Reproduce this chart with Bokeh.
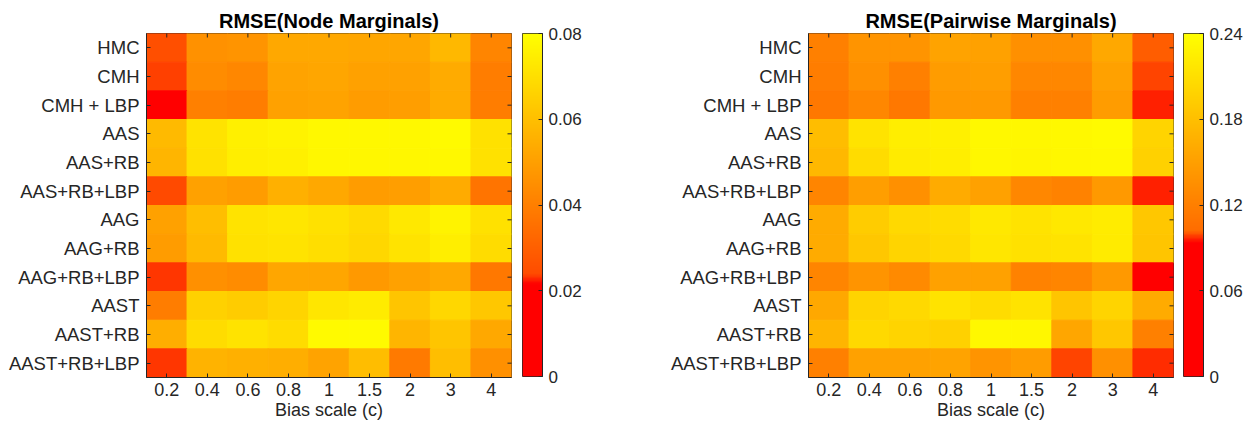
import numpy as np
from bokeh.plotting import figure
from bokeh.models import (LinearColorMapper, FactorRange, Range1d, FixedTicker, ColumnDataSource)
from bokeh.layouts import row
from bokeh.transform import transform
from bokeh.embed import file_html
from bokeh.resources import INLINE

# ---------------- data ----------------
methods = ["HMC", "CMH", "CMH + LBP", "AAS", "AAS+RB", "AAS+RB+LBP", "AAG", "AAG+RB",
           "AAG+RB+LBP", "AAST", "AAST+RB", "AAST+RB+LBP"]
bias_scales = ["0.2", "0.4", "0.6", "0.8", "1", "1.5", "2", "3", "4"]

node_rmse = [
    [0.0248, 0.0456, 0.0464, 0.0528, 0.0528, 0.0520, 0.0520, 0.0576, 0.0416],
    [0.0235, 0.0440, 0.0424, 0.0512, 0.0520, 0.0504, 0.0504, 0.0536, 0.0392],
    [0.0150, 0.0400, 0.0392, 0.0504, 0.0512, 0.0488, 0.0496, 0.0536, 0.0392],
    [0.0584, 0.0712, 0.0752, 0.0760, 0.0776, 0.0776, 0.0776, 0.0784, 0.0704],
    [0.0568, 0.0704, 0.0744, 0.0752, 0.0772, 0.0772, 0.0772, 0.0776, 0.0704],
    [0.0238, 0.0504, 0.0488, 0.0552, 0.0528, 0.0488, 0.0496, 0.0536, 0.0364],
    [0.0504, 0.0596, 0.0712, 0.0720, 0.0704, 0.0684, 0.0728, 0.0760, 0.0704],
    [0.0488, 0.0584, 0.0704, 0.0712, 0.0696, 0.0672, 0.0712, 0.0744, 0.0688],
    [0.0234, 0.0452, 0.0440, 0.0520, 0.0520, 0.0480, 0.0504, 0.0528, 0.0376],
    [0.0392, 0.0656, 0.0640, 0.0664, 0.0720, 0.0736, 0.0616, 0.0672, 0.0624],
    [0.0544, 0.0688, 0.0712, 0.0688, 0.0784, 0.0784, 0.0568, 0.0616, 0.0528],
    [0.0234, 0.0560, 0.0552, 0.0544, 0.0512, 0.0592, 0.0384, 0.0596, 0.0452],
]

pairwise_rmse = [
    [0.1200, 0.1392, 0.1392, 0.1536, 0.1512, 0.1356, 0.1356, 0.1584, 0.1011],
    [0.1176, 0.1356, 0.1200, 0.1464, 0.1488, 0.1272, 0.1272, 0.1512, 0.0989],
    [0.1128, 0.1272, 0.1128, 0.1440, 0.1440, 0.1200, 0.1200, 0.1464, 0.0961],
    [0.1776, 0.2136, 0.2232, 0.2256, 0.2328, 0.2316, 0.2328, 0.2352, 0.1992],
    [0.1728, 0.2064, 0.2208, 0.2232, 0.2316, 0.2304, 0.2316, 0.2328, 0.1968],
    [0.1248, 0.1488, 0.1356, 0.1608, 0.1512, 0.1272, 0.1224, 0.1440, 0.0961],
    [0.1608, 0.1920, 0.2040, 0.2064, 0.2184, 0.2136, 0.2184, 0.2220, 0.1872],
    [0.1608, 0.1872, 0.1992, 0.2040, 0.2160, 0.2112, 0.2136, 0.2208, 0.1848],
    [0.1248, 0.1392, 0.1296, 0.1512, 0.1512, 0.1224, 0.1248, 0.1440, 0.0800],
    [0.1584, 0.1992, 0.2040, 0.2136, 0.2064, 0.2136, 0.1848, 0.1992, 0.1608],
    [0.1704, 0.2040, 0.1992, 0.1968, 0.2328, 0.2316, 0.1560, 0.1872, 0.1200],
    [0.1200, 0.1512, 0.1512, 0.1536, 0.1392, 0.1464, 0.0989, 0.1356, 0.0968],
]

node_ticks = [0, 0.02, 0.04, 0.06, 0.08]
node_tick_labels = ["0", "0.02", "0.04", "0.06", "0.08"]
pair_ticks = [0, 0.06, 0.12, 0.18, 0.24]
pair_tick_labels = ["0", "0.06", "0.12", "0.18", "0.24"]

FONT = "Liberation Sans"
DARK = "#262626"


def make_palette(n, red_end, ramp_end):
    cols = []
    for i in range(n):
        f = (i + 0.5) / n
        if f < red_end:
            g = 0.0
        elif f < ramp_end:
            g = (f - red_end) / (ramp_end - red_end) * ramp_end
        else:
            g = f
        cols.append("#ff%02x00" % int(round(min(g, 1.0) * 255)))
    return cols


node_mapper = LinearColorMapper(palette=make_palette(256, 0.27, 0.30), low=0, high=0.08)
pair_mapper = LinearColorMapper(palette=make_palette(256, 0.39, 0.425), low=0, high=0.24)


def style_axis(ax, size):
    ax.major_label_text_font = FONT
    ax.major_label_text_font_size = size
    ax.major_label_text_color = DARK
    ax.axis_line_color = DARK
    ax.major_tick_line_color = DARK
    ax.major_tick_in = 4
    ax.major_tick_out = 0
    ax.minor_tick_line_color = None


def heatmap(title, values, mapper, left_border, right_border):
    xs, ys, vs = [], [], []
    for r, m in enumerate(methods):
        for c, b in enumerate(bias_scales):
            xs.append(b)
            ys.append(m)
            vs.append(values[r][c])
    src = ColumnDataSource(dict(x=xs, y=ys, v=vs))
    p = figure(x_range=FactorRange(factors=bias_scales),
               y_range=FactorRange(factors=list(reversed(methods))),
               frame_width=365, frame_height=344,
               min_border_left=left_border, min_border_right=right_border,
               min_border_top=33, min_border_bottom=47,
               output_backend="svg", toolbar_location=None, title=title)
    p.rect(x="x", y="y", width=1, height=1, source=src,
           fill_color=transform("v", mapper), line_color=transform("v", mapper), line_width=1)

    # mirrored inner ticks on the top and right edges (half of each dash is clipped by the frame)
    n_rows, n_cols = len(methods), len(bias_scales)
    p.scatter(x=bias_scales, y=[n_rows] * n_cols, marker="dash", size=8, angle=np.pi / 2,
              line_color=DARK, line_width=1)
    p.scatter(x=[n_cols] * n_rows, y=methods, marker="dash", size=8,
              line_color=DARK, line_width=1)

    p.grid.visible = False
    p.outline_line_color = DARK
    p.outline_line_width = 1
    p.background_fill_color = "white"
    p.border_fill_color = "white"
    p.title.text_font = FONT
    p.title.text_font_size = "20px"
    p.title.text_font_style = "bold"
    p.title.text_color = "black"
    p.title.align = "center"
    p.title.standoff = 3
    style_axis(p.xaxis[0], "18px")
    style_axis(p.yaxis[0], "18.5px")
    p.xaxis.major_label_standoff = 5
    p.xaxis.axis_label = "Bias scale (c)"
    p.xaxis.axis_label_text_font = FONT
    p.xaxis.axis_label_text_font_size = "18px"
    p.xaxis.axis_label_text_font_style = "normal"
    p.xaxis.axis_label_text_color = DARK
    p.xaxis.axis_label_standoff = 1
    p.yaxis.major_label_standoff = 7
    return p


def colorbar(mapper, vmax, ticks, labels, left_border, right_border):
    p = figure(x_range=Range1d(0, 1), y_range=Range1d(0, vmax),
               frame_width=20, frame_height=343,
               min_border_left=left_border, min_border_right=right_border,
               min_border_top=33, min_border_bottom=48,
               x_axis_location=None, y_axis_location="right",
               output_backend="svg", toolbar_location=None)
    grad = np.linspace(0, vmax, 512).reshape(512, 1)
    p.image(image=[grad], x=0, y=0, dw=1, dh=vmax, color_mapper=mapper)
    p.grid.visible = False
    p.outline_line_color = DARK
    p.background_fill_color = "white"
    p.border_fill_color = "white"
    ax = p.yaxis[0]
    style_axis(ax, "17px")
    ax.ticker = FixedTicker(ticks=ticks)
    ax.major_label_overrides = dict(zip(ticks, labels))
    ax.major_label_standoff = 6
    return p


# left panel: heatmap frame 146..511, colorbar 522..542
p1 = heatmap("RMSE(Node Marginals)", node_rmse, node_mapper, 146, 3)
c1 = colorbar(node_mapper, 0.08, node_ticks, node_tick_labels, 8, 80)
# right panel: heatmap frame 808..1173, colorbar 1183..1203
p2 = heatmap("RMSE(Pairwise Marginals)", pairwise_rmse, pair_mapper, 186, 8)
c2 = colorbar(pair_mapper, 0.24, pair_ticks, pair_tick_labels, 2, 52)

layout = row(p1, c1, p2, c2, spacing=0)

with open("out.html", "w") as f:
    f.write(file_html(layout, INLINE))
